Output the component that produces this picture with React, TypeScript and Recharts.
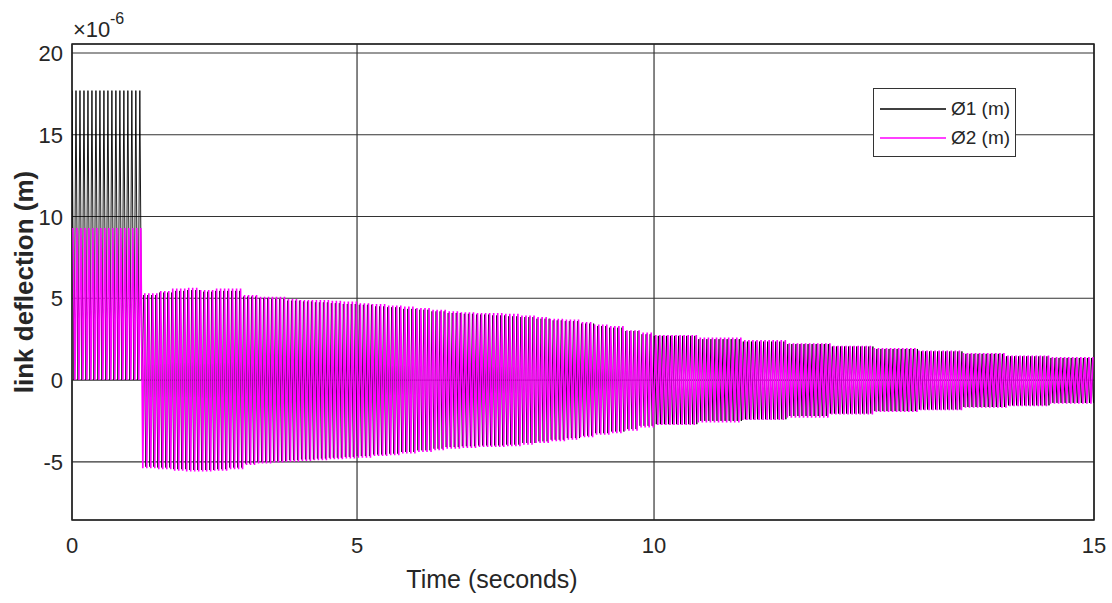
import { LineChart, Line, XAxis, YAxis, CartesianGrid, ReferenceArea, Legend } from 'recharts'

const FONT = '"Liberation Sans", Arial, Helvetica, sans-serif'
const INK = '#262626'

const xTicks = [0, 5, 10, 15]
const yTicks = [-5, 0, 5, 10, 15, 20]
const yDomain = [-8.56, 20.55]

// where the 0/5/10/15 grid lines sit across the plot width in the picture (the time axis is not evenly spaced there)
const xTickShare = [0, 0.2789, 0.5695, 1]

const seriesNames = ['Ø1 (m)', 'Ø2 (m)']
const seriesColors = ['#000000', '#ff00ff']

// envelope of the oscillation, ×10^-6 m
const envTime = [0, 1.23, 1.5, 1.75, 2.0, 2.25, 2.5, 2.75, 3.0, 3.25, 3.5, 3.75, 4.0, 4.25, 4.5, 4.75, 5.0, 5.25, 5.5, 5.75, 6.0, 6.25, 6.5, 6.75, 7.0, 7.25, 7.5, 7.75, 8.0, 8.25, 8.5, 8.75, 9.0, 9.25, 9.5, 9.75, 10, 10.5, 11, 11.5, 12, 12.5, 13, 13.5, 14, 14.5]
const phi1Top = [17.7, 5.2, 5.35, 5.45, 5.5, 5.4, 5.45, 5.45, 5.1, 5.0, 4.95, 4.85, 4.8, 4.75, 4.7, 4.65, 4.6, 4.5, 4.45, 4.35, 4.3, 4.2, 4.1, 4.05, 4.0, 3.95, 3.9, 3.85, 3.75, 3.65, 3.6, 3.45, 3.3, 3.2, 3.0, 2.8, 2.7, 2.5, 2.35, 2.2, 2.05, 1.9, 1.75, 1.6, 1.45, 1.35]
const phi1Bottom = [0, -5.3, -5.35, -5.45, -5.5, -5.5, -5.45, -5.35, -5.1, -5.0, -4.95, -4.9, -4.85, -4.8, -4.75, -4.7, -4.65, -4.55, -4.5, -4.4, -4.3, -4.2, -4.1, -4.05, -4.0, -4.0, -3.95, -3.85, -3.75, -3.65, -3.55, -3.4, -3.25, -3.15, -3.0, -2.8, -2.7, -2.5, -2.4, -2.2, -2.05, -1.9, -1.8, -1.65, -1.55, -1.4]
const phi2Top = [9.3, 5.3, 5.45, 5.6, 5.65, 5.5, 5.6, 5.6, 5.2, 5.1, 5.1, 4.95, 4.9, 4.9, 4.85, 4.8, 4.7, 4.65, 4.55, 4.5, 4.4, 4.3, 4.2, 4.15, 4.1, 4.1, 4.05, 3.95, 3.85, 3.75, 3.7, 3.55, 3.4, 3.3, 3.05, 2.9, 2.75, 2.6, 2.45, 2.25, 2.1, 1.95, 1.8, 1.65, 1.5, 1.4]
const phi2Bottom = [0, -5.4, -5.45, -5.55, -5.6, -5.6, -5.55, -5.45, -5.2, -5.1, -5.05, -5.0, -4.95, -4.9, -4.85, -4.8, -4.75, -4.65, -4.6, -4.5, -4.4, -4.3, -4.2, -4.15, -4.1, -4.1, -4.05, -3.95, -3.85, -3.75, -3.65, -3.5, -3.35, -3.25, -3.1, -2.9, -2.75, -2.6, -2.45, -2.3, -2.1, -1.95, -1.85, -1.7, -1.6, -1.45]

// crest-to-trough spacing of the spikes, read per section of the time axis
const halfPeriodFrom = [0, 5, 10]
const halfPeriod = [0.035, 0.034, 0.023]

// each spike takes the envelope reading of the stretch it falls in
function buildTrace(top: number[], bottom: number[], shift: number) {
  const pts: { t: number; v: number }[] = []
  let t = shift
  let k = 0
  while (t <= 15) {
    let i = 0
    while (i < envTime.length - 1 && envTime[i + 1] <= t) i++
    pts.push({ t, v: k % 2 === 0 ? top[i] : bottom[i] })
    let s = 0
    while (s < halfPeriodFrom.length - 1 && halfPeriodFrom[s + 1] <= t) s++
    t += halfPeriod[s]
    k++
  }
  return pts
}

const phi1Data = buildTrace(phi1Top, phi1Bottom, 0)
const phi2Data = buildTrace(phi2Top, phi2Bottom, 0.017)

// piecewise linear scale so the grid lines land where the picture has them
function piecewiseScale(): any {
  let dom = [0, 15]
  let rng = [0, 1]
  const s: any = (v: number) => {
    let i = 0
    while (i < xTicks.length - 2 && v > xTicks[i + 1]) i++
    const f = xTickShare[i] + ((v - xTicks[i]) / (xTicks[i + 1] - xTicks[i])) * (xTickShare[i + 1] - xTickShare[i])
    return rng[0] + f * (rng[1] - rng[0])
  }
  s.domain = (d?: number[]) => {
    if (d === undefined) return dom.slice()
    dom = d.slice()
    return s
  }
  s.range = (r?: number[]) => {
    if (r === undefined) return rng.slice()
    rng = r.slice()
    return s
  }
  s.copy = () => piecewiseScale().domain(dom).range(rng)
  s.ticks = () => xTicks.slice()
  s.invert = (px: number) => {
    const f = (px - rng[0]) / (rng[1] - rng[0])
    let i = 0
    while (i < xTickShare.length - 2 && f > xTickShare[i + 1]) i++
    return xTicks[i] + ((f - xTickShare[i]) / (xTickShare[i + 1] - xTickShare[i])) * (xTicks[i + 1] - xTicks[i])
  }
  return s
}

function XTick({ x, y, payload }: any) {
  return (
    <text x={x} y={y + 33} textAnchor="middle" fontSize={22} fontFamily={FONT} fill={INK}>
      {payload.value}
    </text>
  )
}

function YTick({ x, y, payload }: any) {
  return (
    <text x={x} y={y + 8} textAnchor="end" fontSize={22} fontFamily={FONT} fill={INK}>
      {payload.value}
    </text>
  )
}

function XTitle() {
  return (
    <text x={492} y={588} textAnchor="middle" fontSize={25} fontFamily={FONT} fill={INK}>
      Time (seconds)
    </text>
  )
}

function YTitle() {
  return (
    <g>
      <text
        transform="translate(33,282) rotate(-90)"
        textAnchor="middle"
        fontSize={26}
        fontWeight="bold"
        fontFamily={FONT}
        fill={INK}
      >
        link deflection (m)
      </text>
      <text x={73} y={37} fontSize={22} fontFamily={FONT} fill={INK}>
        ×10
      </text>
      <text x={110} y={24} fontSize={16} fontFamily={FONT} fill={INK}>
        -6
      </text>
    </g>
  )
}

function LegendBox() {
  return (
    <div
      style={{
        width: 143,
        height: 69,
        boxSizing: 'border-box',
        border: '1px solid #333',
        background: '#fff',
        fontFamily: FONT,
        fontSize: 19,
        color: INK,
        paddingTop: 5,
      }}
    >
      {seriesNames.map((name, i) => (
        <div key={name} style={{ display: 'flex', alignItems: 'center', height: 29 }}>
          <svg width={73} height={4} style={{ display: 'block' }}>
            <line x1={6} x2={72} y1={2} y2={2} stroke={seriesColors[i]} strokeWidth={1.5} />
          </svg>
          <span style={{ marginLeft: 4, whiteSpace: 'nowrap' }}>{name}</span>
        </div>
      ))}
    </div>
  )
}

export default function App() {
  return (
    <div style={{ position: 'absolute', left: 0, top: 0, width: 1112, height: 603, background: '#fff' }}>
      <LineChart width={1112} height={603} margin={{ top: 44, right: 18, bottom: 0, left: 0 }}>
        <CartesianGrid stroke="#333" strokeWidth={1.2} />
        <XAxis
          dataKey="t"
          type="number"
          domain={[0, 15]}
          ticks={xTicks}
          scale={piecewiseScale()}
          allowDataOverflow
          height={83}
          axisLine={false}
          tickLine={false}
          tickSize={0}
          tickMargin={0}
          tick={<XTick />}
          label={<XTitle />}
        />
        <YAxis
          type="number"
          domain={yDomain}
          ticks={yTicks}
          allowDataOverflow
          width={72}
          axisLine={false}
          tickLine={false}
          tickSize={0}
          tickMargin={9}
          tick={<YTick />}
          label={<YTitle />}
        />
        <Line
          data={phi1Data}
          dataKey="v"
          name={seriesNames[0]}
          type="linear"
          stroke={seriesColors[0]}
          strokeWidth={0.9}
          dot={false}
          isAnimationActive={false}
        />
        <Line
          data={phi2Data}
          dataKey="v"
          name={seriesNames[1]}
          type="linear"
          stroke={seriesColors[1]}
          strokeWidth={1.6}
          dot={false}
          isAnimationActive={false}
        />
        <ReferenceArea
          x1={0}
          x2={15}
          y1={yDomain[0]}
          y2={yDomain[1]}
          fill="none"
          stroke="#222"
          strokeWidth={1.5}
          ifOverflow="visible"
        />
        <Legend
          layout="vertical"
          align="center"
          verticalAlign="middle"
          content={<LegendBox />}
          wrapperStyle={{ left: 873, top: 88, width: 143, height: 69 }}
        />
      </LineChart>
    </div>
  )
}
